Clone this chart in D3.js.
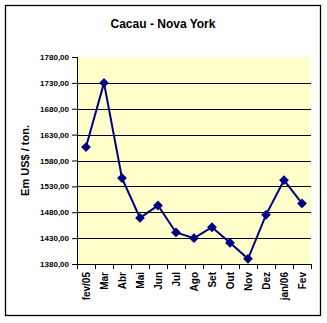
<!DOCTYPE html>
<html>
<head>
<meta charset="utf-8">
<script src="https://cdn.jsdelivr.net/npm/d3@7"></script>
<style>
  body { margin: 0; background: #fff; }
  text { font-family: Arial, "Liberation Sans", sans-serif; }
</style>
</head>
<body>
<div id="chart"></div>
<script>
// months shown on the x axis
const months = ["fev/05", "Mar", "Abr", "Mai", "Jun", "Jul", "Ago", "Set", "Out", "Nov", "Dez", "jan/06", "Fev"];
// cocoa price in New York (US$ / ton)
const prices = [1606, 1730, 1546, 1469, 1493, 1441, 1430, 1451, 1421, 1390, 1475, 1542, 1497];
// y axis ticks
const yTicks = [1380, 1430, 1480, 1530, 1580, 1630, 1680, 1730, 1780];

const W = 327, H = 323;
const margin = { top: 57, right: 16, bottom: 59, left: 77 };
const w = W - margin.left - margin.right,
  h = H - margin.top - margin.bottom;

let svg = d3.select("#chart").append("svg").attr("width", W).attr("height", H);

// outer frame
svg.append("rect")
  .attr("x", 5.5).attr("y", 5.5)
  .attr("width", 315).attr("height", 310)
  .attr("fill", "#fff").attr("stroke", "#000").attr("stroke-width", 1.3);

// title
svg.append("text")
  .attr("x", 163).attr("y", 28)
  .attr("text-anchor", "middle")
  .style("font-size", "12px").style("font-weight", "bold")
  .text("Cacau - Nova York");

let g = svg.append("g").attr("transform", `translate(${margin.left},${margin.top})`);

let xScale = d3.scaleBand().domain(months).range([0, w]);
let yScale = d3.scaleLinear().domain([1380, 1780]).range([h, 0]);

// plot background
g.append("rect").attr("width", w).attr("height", h).attr("fill", "#FFFFCC");

// gridlines
g.selectAll(".grid")
  .data(yTicks.filter((d) => d !== 1380 && d !== 1780))
  .enter().append("line")
  .attr("x1", 0).attr("x2", w)
  .attr("y1", (d) => Math.round(yScale(d)) + 0.5)
  .attr("y2", (d) => Math.round(yScale(d)) + 0.5)
  .attr("stroke", "#000").attr("stroke-width", 1);

// y axis
let yAxis = d3.axisLeft(yScale).tickValues(yTicks).tickSize(5).tickPadding(3)
  .tickFormat((d) => d3.format(".2f")(d).replace(".", ","));
let gY = g.append("g").call(yAxis);
gY.select(".domain").attr("d", `M0.5,0V${h}`);
gY.selectAll(".tick text").style("font-size", "8px").style("font-weight", "bold")
  .attr("font-family", null);

// x axis with ticks at category boundaries
g.append("line").attr("x1", 0).attr("x2", w).attr("y1", h + 0.5).attr("y2", h + 0.5).attr("stroke", "#000");
g.selectAll(".xtick")
  .data(d3.range(months.length + 1))
  .enter().append("line")
  .attr("x1", (i) => Math.round(i * xScale.step()) + 0.5)
  .attr("x2", (i) => Math.round(i * xScale.step()) + 0.5)
  .attr("y1", h).attr("y2", h + 5)
  .attr("stroke", "#000");
g.selectAll(".xlabel")
  .data(months)
  .enter().append("text")
  .attr("transform", (d) => `translate(${xScale(d) + xScale.bandwidth() / 2 + 3.5},${h + 8}) rotate(-90)`)
  .attr("text-anchor", "end")
  .style("font-size", "10px").style("font-weight", "bold")
  .text((d) => d);

// y axis label
svg.append("text")
  .attr("transform", `translate(29,${margin.top + h / 2}) rotate(-90)`)
  .attr("text-anchor", "middle")
  .style("font-size", "11px").style("font-weight", "bold")
  .text("Em US$ / ton.");

// price line
let line = d3.line()
  .x((d, i) => xScale(months[i]) + xScale.bandwidth() / 2)
  .y((d) => yScale(d));
g.append("path").datum(prices)
  .attr("d", line).attr("fill", "none")
  .attr("stroke", "#000080").attr("stroke-width", 2);

// diamond markers
g.selectAll(".marker")
  .data(prices)
  .enter().append("path")
  .attr("d", d3.symbol().type(d3.symbolSquare).size(48))
  .attr("transform", (d, i) => `translate(${xScale(months[i]) + xScale.bandwidth() / 2},${yScale(d)}) rotate(45)`)
  .attr("fill", "#000080");
</script>
</body>
</html>
